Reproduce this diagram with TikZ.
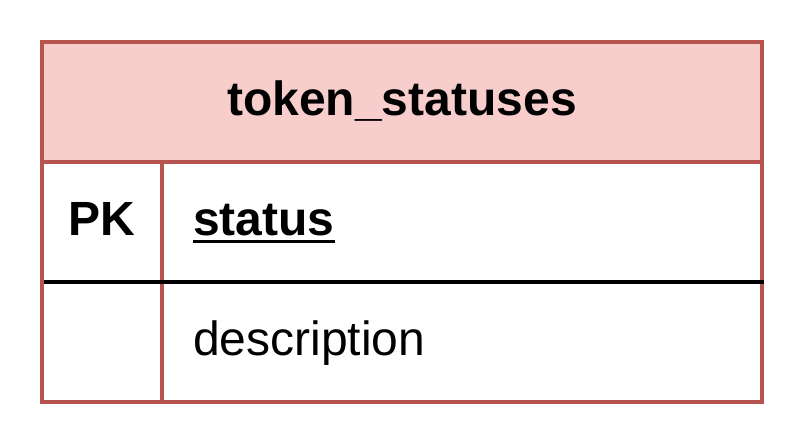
\documentclass[tikz,border=0pt]{standalone}
\usepackage{fontspec}
\setmainfont{Liberation Sans}
\usetikzlibrary{calc}
\definecolor{erborder}{HTML}{B85450}
\definecolor{erfill}{HTML}{F8CECC}
\begin{document}
\begin{tikzpicture}[x=1pt,y=-1pt,
  frame/.style={draw=erborder,line width=4pt},
  keyline/.style={draw=black,line width=4pt},
  bigbold/.style={font=\fontsize{48}{58}\selectfont\bfseries,inner sep=0pt},
  bigtext/.style={font=\fontsize{48}{58}\selectfont,inner sep=0pt}]
  \useasboundingbox (0,0) rectangle (804,444);
  % table body and header band
  \fill[white] (42,42) rectangle (762,402);
  \fill[erfill] (42,42) rectangle (762,162);
  % header label
  \node[bigbold,anchor=base] (title) at (402,115) {token\_statuses};
  % key column and row labels
  \node[bigbold,anchor=base west] (pk) at (68,235) {PK};
  \node[bigbold,anchor=base west] (st) at (193,235) {status};
  \node[bigtext,anchor=base west] (desc) at (193,355) {description};
  \draw[line width=3.5pt] ($(st.base west)+(0,6.5)$) -- ($(st.base east)+(0,6.5)$);
  % grid lines
  \draw[frame] (162,162) -- (162,402);
  \draw[frame] (42,162) -- (762,162);
  \draw[frame] (42,42) rectangle (762,402);
  \draw[keyline] (44,282) -- (764,282);
\end{tikzpicture}
\end{document}
